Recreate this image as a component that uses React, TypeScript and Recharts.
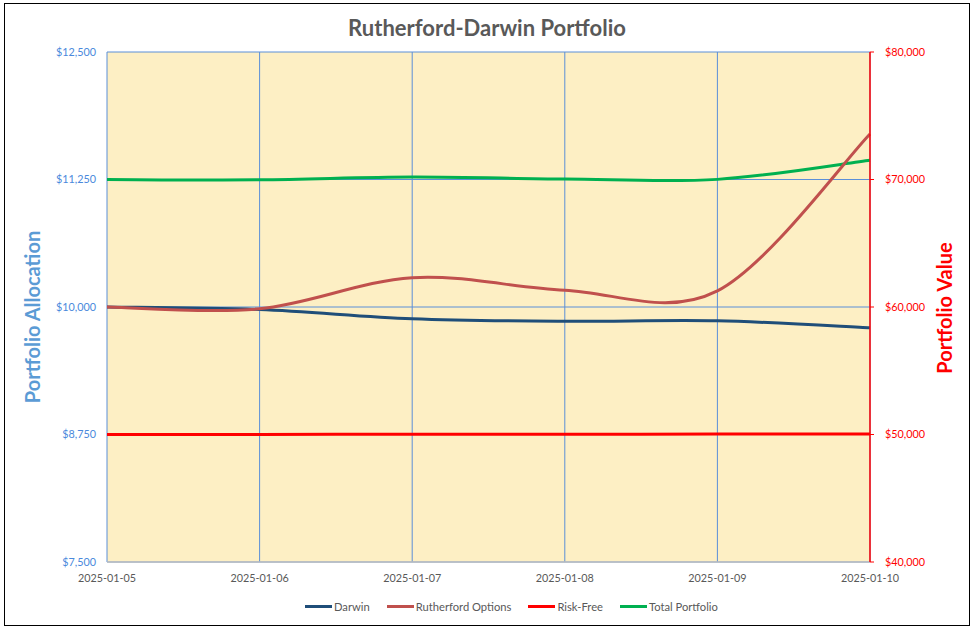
import React from 'react';
import { LineChart, Line, XAxis, YAxis, CartesianGrid } from 'recharts';

const categories = ['2025-01-05', '2025-01-06', '2025-01-07', '2025-01-08', '2025-01-09', '2025-01-10'];
const darwin = [10000, 9975, 9885, 9860, 9865, 9796];
const rutherford = [10000, 9982, 10287, 10165, 10158, 11696];
const riskFree = [50000, 50008, 50016, 50024, 50032, 50040];
const totalPortfolio = [70000, 69976, 70196, 70039, 70010, 71506];

const leftTicks = [7500, 8750, 10000, 11250, 12500];
const rightTicks = [40000, 50000, 60000, 70000, 80000];

const seriesNames = ['Darwin', 'Rutherford Options', 'Risk-Free', 'Total Portfolio'];
const seriesColors = ['#1F4E79', '#C0504D', '#FF0000', '#00B050'];

const data = categories.map((date, i) => ({
  date,
  darwin: darwin[i],
  rutherford: rutherford[i],
  riskFree: riskFree[i],
  total: totalPortfolio[i],
}));

// Excel-like smoothed line (Catmull-Rom with 1/6 tangents)
function excelCurve(context: any) {
  let pts: number[][] = [];
  return {
    areaStart() {},
    areaEnd() {},
    lineStart() {
      pts = [];
    },
    lineEnd() {
      const n = pts.length;
      if (n === 0) return;
      context.moveTo(pts[0][0], pts[0][1]);
      for (let i = 0; i < n - 1; i++) {
        const p0 = pts[i - 1] || pts[i];
        const p1 = pts[i];
        const p2 = pts[i + 1];
        const p3 = pts[i + 2] || p2;
        context.bezierCurveTo(
          p1[0] + (p2[0] - p0[0]) / 6,
          p1[1] + (p2[1] - p0[1]) / 6,
          p2[0] - (p3[0] - p1[0]) / 6,
          p2[1] - (p3[1] - p1[1]) / 6,
          p2[0],
          p2[1]
        );
      }
    },
    point(x: number, y: number) {
      pts.push([+x, +y]);
    },
  };
}

const fmt = (v: number) => '$' + v.toLocaleString('en-US');
const FONT = 'Lato, "Open Sans", sans-serif';

export default function App() {
  return (
    <div style={{ position: 'absolute', left: 0, top: 0, width: 972, height: 627, background: '#fff', fontFamily: FONT }}>
      <div
        style={{
          position: 'absolute',
          left: 4,
          top: 3,
          width: 966,
          height: 623,
          border: '1px solid #000',
          boxSizing: 'border-box',
        }}
      />
      <div style={{ position: 'absolute', left: 0, top: 0 }}>
        <LineChart width={972} height={627} data={data} margin={{ top: 52, right: 0, bottom: 0, left: 0 }}>
          <CartesianGrid yAxisId="left" stroke="#5B8FD8" strokeWidth={1} fill="#FDEFC4" />
          <XAxis
            dataKey="date"
            scale="point"
            padding={{ left: 0, right: 0 }}
            height={65}
            interval={0}
            axisLine={{ stroke: '#BFBFBF', strokeWidth: 1.5 }}
            tickLine={false}
            tickSize={0}
            tickMargin={12}
            tick={{ fill: '#595959', fontSize: 10.8, fontFamily: FONT }}
          />
          <YAxis
            yAxisId="left"
            width={107}
            domain={[7500, 12500]}
            ticks={leftTicks}
            tickFormatter={fmt}
            axisLine={false}
            tickLine={false}
            tickSize={0}
            tickMargin={11}
            tick={{ fill: '#4A89DC', fontSize: 10.8, fontFamily: FONT }}
          />
          <YAxis
            yAxisId="right"
            orientation="right"
            width={102}
            domain={[40000, 80000]}
            ticks={rightTicks}
            tickFormatter={fmt}
            axisLine={{ stroke: '#FF0000', strokeWidth: 1.5 }}
            tickLine={{ stroke: '#FF0000' }}
            tickSize={4}
            tickMargin={11}
            tick={{ fill: '#FF0000', fontSize: 10.8, fontFamily: FONT }}
          />
          <Line yAxisId="right" dataKey="riskFree" name={seriesNames[2]} stroke={seriesColors[2]} strokeWidth={3} dot={false} type={excelCurve as any} isAnimationActive={false} />
          <Line yAxisId="right" dataKey="total" name={seriesNames[3]} stroke={seriesColors[3]} strokeWidth={3} dot={false} type={excelCurve as any} isAnimationActive={false} />
          <Line yAxisId="left" dataKey="darwin" name={seriesNames[0]} stroke={seriesColors[0]} strokeWidth={3} dot={false} type={excelCurve as any} isAnimationActive={false} />
          <Line yAxisId="left" dataKey="rutherford" name={seriesNames[1]} stroke={seriesColors[1]} strokeWidth={3} dot={false} type={excelCurve as any} isAnimationActive={false} />
        </LineChart>
      </div>
      <svg width={972} height={627} style={{ position: 'absolute', left: 0, top: 0, pointerEvents: 'none' }}>
        <text x={487} y={36} textAnchor="middle" fontFamily={FONT} fontWeight={700} fontSize={22} fill="#595959">
          Rutherford-Darwin Portfolio
        </text>
        <text
          x={0}
          y={0}
          transform="translate(40,317) rotate(-90)"
          textAnchor="middle"
          fontFamily={FONT}
          fontWeight={700}
          fontSize={20}
          fill="#5B9BD5"
        >
          Portfolio Allocation
        </text>
        <text
          x={0}
          y={0}
          transform="translate(952,308) rotate(-90)"
          textAnchor="middle"
          fontFamily={FONT}
          fontWeight={700}
          fontSize={20}
          fill="#FF0000"
        >
          Portfolio Value
        </text>
      </svg>
      <div
        style={{
          position: 'absolute',
          left: 305,
          top: 598,
          height: 16,
          display: 'flex',
          alignItems: 'center',
          gap: 17,
          fontSize: 11.2,
          color: '#595959',
          fontFamily: FONT,
          whiteSpace: 'nowrap',
        }}
      >
        {seriesNames.map((name, i) => (
          <div key={name} style={{ display: 'flex', alignItems: 'center' }}>
            <div style={{ width: 27, height: 3, background: seriesColors[i], marginRight: 2 }} />
            <span>{name}</span>
          </div>
        ))}
      </div>
    </div>
  );
}
